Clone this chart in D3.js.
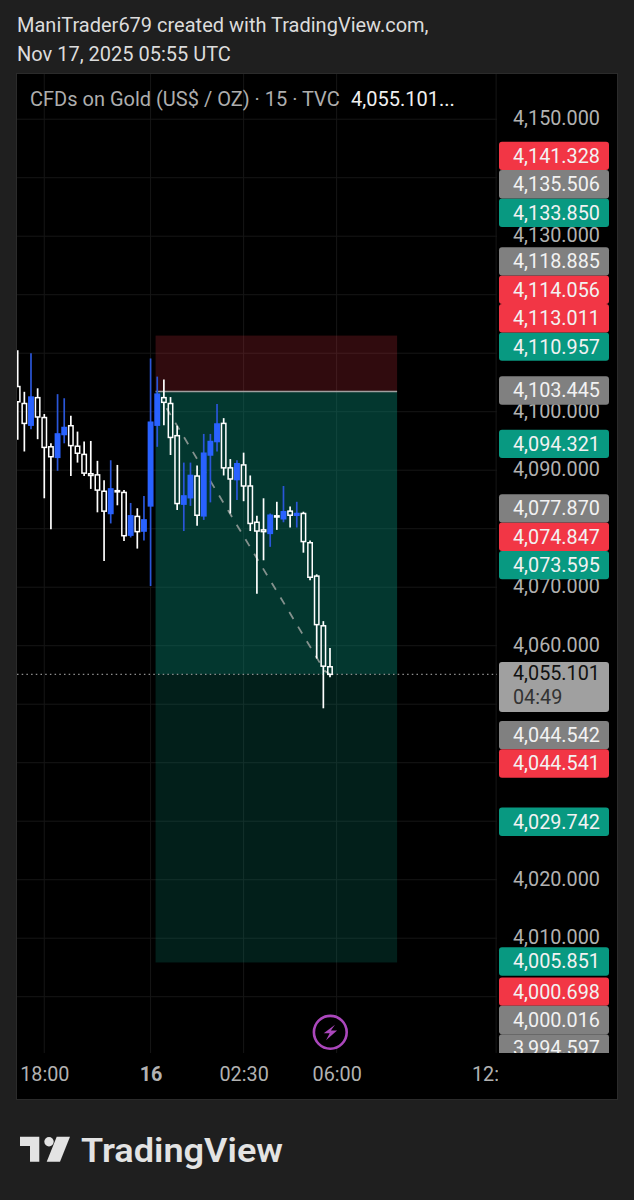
<!DOCTYPE html>
<html><head><meta charset="utf-8">
<script src="https://cdnjs.cloudflare.com/ajax/libs/d3/7.8.5/d3.min.js"></script>
<style>html,body{margin:0;padding:0;background:#1f1f1f}svg{display:block}text{font-family:Roboto,sans-serif}</style>
</head><body><svg id="c" width="634" height="1200"></svg>
<script>
// ---- data ----
const candleOpen=[4104.3,4101.4,4097.7,4102.4,4099.0,4094.0,4092.2,4096.1,4097.6,4094.1,4092.7,4089.4,4089.2,4086.4,4082.6,4086.5,4086.2,4078.9,4082.1,4079.6,4083.9,4097.7,4102.4,4101.4,4095.9,4084.2,4085.3,4089.0,4082.2,4092.6,4094.9,4098.0,4090.4,4088.4,4090.9,4087.3,4081.1,4079.8,4079.2,4082.2,4081.7,4083.0,4082.3,4082.6,4077.6,4071.9,4063.4,4056.4];
const candleHigh=[4110.5,4103.4,4110.0,4104.0,4099.6,4094.6,4103.0,4102.3,4099.3,4096.6,4094.9,4095.0,4091.6,4088.3,4091.7,4090.9,4086.6,4084.4,4083.5,4085.6,4109.1,4106.0,4105.5,4102.5,4097.6,4091.3,4091.3,4090.8,4096.2,4096.2,4101.3,4098.9,4091.9,4091.7,4093.0,4089.1,4082.2,4085.2,4082.6,4084.6,4087.3,4083.8,4084.6,4082.9,4078.0,4072.2,4064.2,4059.6];
const candleLow=[4095.2,4093.2,4097.0,4095.3,4085.2,4079.9,4089.9,4094.6,4089.0,4091.3,4089.0,4086.8,4082.8,4074.5,4080.9,4084.0,4077.9,4078.5,4076.6,4078.0,4070.2,4094.0,4097.7,4092.6,4083.2,4079.6,4083.9,4080.5,4081.5,4084.5,4093.2,4089.1,4082.6,4084.9,4084.7,4079.6,4068.9,4074.6,4076.9,4079.8,4081.1,4080.2,4080.2,4075.9,4071.2,4057.8,4049.3,4054.6];
const candleClose=[4101.7,4098.0,4102.5,4099.1,4093.9,4092.3,4096.2,4097.3,4094.2,4092.9,4089.5,4089.1,4086.6,4083.0,4086.8,4086.3,4078.8,4082.2,4079.5,4081.5,4098.2,4103.0,4101.6,4095.6,4084.3,4085.6,4089.1,4082.3,4092.9,4094.9,4097.9,4090.4,4088.5,4091.1,4087.3,4080.9,4079.6,4079.5,4082.3,4082.0,4082.9,4082.3,4082.6,4077.8,4071.7,4063.6,4056.5,4055.1];

const gridPrices=[4150,4140,4130,4120,4110,4100,4090,4080,4070,4060,4050,4040,4030,4020,4010,4000];
const priceTicks=[4150,4130,4100,4090,4070,4060,4020,4010];
const timeTickIndex=[4,20,34,48,72];
const timeTickLabels=["18:00","16","02:30","06:00","12:00"];

const lastPrice=4055.101;
const countdown="04:49";
const labelValues=[4141.328,4135.506,4133.850,4118.885,4114.056,4113.011,4110.957,4103.445,4094.321,4077.870,4074.847,4073.595,4044.542,4044.541,4029.742,4005.851,4000.698,4000.016,3994.597];
const labelKinds=["red","gray","green","gray","red","red","green","gray","green","gray","red","green","gray","red","green","green","red","gray","gray"];

const riskStop=4113.011, riskEntry=4103.445, riskTarget=4005.851;
const riskStartIndex=20.75, riskEndIndex=57.1;
const pathIndex=[22.4,46.2,47];
const pathPrice=[4100.6,4055.7,4055.1];

// ---- layout ----
const W=634,H=1200;
const pane={l:17,t:74,r:497,b:1053}, frame={l:17,t:74,r:617,b:1099};
const svg=d3.select("#c");
const y=d3.scaleLinear().domain([4150,4000]).range([119.2,996.7]);
const x=d3.scaleLinear().domain([0,72]).range([17.7,496.1]);
const labelColor={red:"#f23645",gray:"#808080",green:"#089981"};
const fmt=d3.format(",.3f");

svg.append("rect").attr("width",W).attr("height",H).attr("fill","#1f1f1f");
svg.append("rect").attr("x",frame.l).attr("y",frame.t).attr("width",frame.r-frame.l).attr("height",frame.b-frame.t).attr("fill","#000");
svg.append("rect").attr("x",frame.l-.5).attr("y",frame.t-.5).attr("width",frame.r-frame.l+1).attr("height",frame.b-frame.t+1).attr("fill","none").attr("stroke","#2b2b2b");

const defs=svg.append("defs");
defs.append("clipPath").attr("id","paneClip").append("rect").attr("x",pane.l).attr("y",pane.t).attr("width",pane.r-pane.l).attr("height",pane.b-pane.t);
defs.append("clipPath").attr("id","axisClip").append("rect").attr("x",497).attr("y",pane.t).attr("width",120).attr("height",pane.b-pane.t);
defs.append("clipPath").attr("id","timeClip").append("rect").attr("x",pane.l).attr("y",pane.b).attr("width",pane.r+1-pane.l).attr("height",frame.b-pane.b);

// header
const hdr=svg.append("g").attr("font-size",20).attr("fill","#dcdcdc");
hdr.append("text").attr("x",17).attr("y",32).text("ManiTrader679 created with TradingView.com,");
hdr.append("text").attr("x",17).attr("y",60.5).text("Nov 17, 2025 05:55 UTC");

// plot
const plot=svg.append("g").attr("clip-path","url(#paneClip)");
plot.selectAll("line.gy").data(gridPrices).join("line").attr("class","gy")
 .attr("x1",pane.l).attr("x2",pane.r).attr("y1",d=>y(d)).attr("y2",d=>y(d)).attr("stroke","#161616").attr("stroke-width",1);
plot.selectAll("line.gx").data(timeTickIndex).join("line").attr("class","gx")
 .attr("x1",d=>x(d)).attr("x2",d=>x(d)).attr("y1",pane.t).attr("y2",pane.b).attr("stroke","#161616").attr("stroke-width",1);

const bx=x(riskStartIndex), bw=x(riskEndIndex)-bx;
const band=(a,b,col,op)=>plot.append("rect").attr("x",bx).attr("width",bw).attr("y",y(a)).attr("height",y(b)-y(a)).attr("fill",col).attr("fill-opacity",op);
band(riskStop,riskEntry,"#f23645",.2);
band(riskEntry,lastPrice,"#089981",.36);
band(lastPrice,riskTarget,"#089981",.2);
plot.append("line").attr("x1",bx).attr("x2",bx+bw).attr("y1",y(riskEntry)).attr("y2",y(riskEntry)).attr("stroke","#a0a0a0").attr("stroke-width",1.5);

plot.append("path").attr("d",d3.line().x(d=>x(d[0])).y(d=>y(d[1]))(d3.zip(pathIndex,pathPrice)))
 .attr("fill","none").attr("stroke","#84918d").attr("stroke-width",1.8).attr("stroke-dasharray","8 9");

plot.append("line").attr("x1",pane.l).attr("x2",pane.r).attr("y1",y(lastPrice)).attr("y2",y(lastPrice))
 .attr("stroke","#8f8f8f").attr("stroke-width",1.2).attr("stroke-dasharray","1.5 3.2");

// candles
const candles=candleOpen.map((o,i)=>({i,o,h:candleHigh[i],l:candleLow[i],c:candleClose[i]}));
const gc=plot.selectAll("g.c").data(candles).join("g").attr("class","c");
const colr=d=>d.c>=d.o?"#2962ff":"#ffffff";
gc.append("line").attr("x1",d=>x(d.i)).attr("x2",d=>x(d.i)).attr("y1",d=>y(d.h)).attr("y2",d=>y(Math.max(d.o,d.c))).attr("stroke",d=>d.c>=d.o?"#2a56d8":"#fff").attr("stroke-width",1.7);
gc.append("line").attr("x1",d=>x(d.i)).attr("x2",d=>x(d.i)).attr("y1",d=>y(Math.min(d.o,d.c))).attr("y2",d=>y(d.l)).attr("stroke",d=>d.c>=d.o?"#2a56d8":"#fff").attr("stroke-width",1.7);
gc.append("rect").attr("x",d=>x(d.i)-2.2).attr("width",4.4)
 .attr("y",d=>y(Math.max(d.o,d.c))).attr("height",d=>Math.max(.6,Math.abs(y(d.o)-y(d.c))))
 .attr("fill",d=>d.c>=d.o?"#2962ff":"none").attr("stroke",colr).attr("stroke-width",1.5);

// price axis
const priceAxis=d3.axisRight(y).tickValues(priceTicks).tickFormat(fmt).tickSize(0).tickPadding(0);
const pa=svg.append("g").attr("clip-path","url(#axisClip)");
const pag=pa.append("g").attr("transform","translate(513,-1)").call(priceAxis);
pag.select(".domain").remove();
pag.selectAll("text").attr("font-family","Roboto,sans-serif").attr("font-size",19.8).attr("fill","#b2b2b2");

// stacked price labels: pushed away from the last price label
const H_L=28.4;
const items=labelValues.map((v,i)=>({v,k:labelKinds[i],py:y(v)-1}));
const above=items.filter(d=>d.v>lastPrice).sort((a,b)=>a.v-b.v);
const below=items.filter(d=>d.v<lastPrice).sort((a,b)=>b.v-a.v);
let prev=Infinity; above.forEach(d=>{d.py=Math.min(d.py,prev-H_L);prev=d.py;});
prev=-Infinity; below.forEach(d=>{d.py=Math.max(d.py,prev+H_L);prev=d.py;});
const lg=pa.selectAll("g.lab").data(above.concat(below)).join("g").attr("class","lab").attr("transform",d=>`translate(0,${d.py})`);
lg.append("rect").attr("x",499).attr("y",-H_L/2).attr("width",110).attr("height",H_L).attr("rx",3).attr("fill",d=>labelColor[d.k]);
lg.append("text").attr("x",513).attr("dy","0.35em").attr("font-size",19.8).attr("fill","#f2f2f2").text(d=>fmt(d.v));

// last price label
const ly=y(lastPrice);
pa.append("rect").attr("x",499).attr("y",ly-12.4).attr("width",110).attr("height",50).attr("rx",3).attr("fill","#a0a0a0");
pa.append("text").attr("x",513).attr("y",ly-1).attr("dy","0.35em").attr("font-size",19.8).attr("fill","#111").text(fmt(lastPrice));
pa.append("text").attr("x",513).attr("y",ly+23).attr("dy","0.35em").attr("font-size",19.8).attr("fill","#333").text(countdown);

// time axis
const timeAxis=d3.axisBottom(x).tickValues(timeTickIndex).tickFormat((d,i)=>timeTickLabels[i]).tickSize(0).tickPadding(0);
const tg=svg.append("g").attr("clip-path","url(#timeClip)").append("g").attr("transform","translate(0,1067)").call(timeAxis);
tg.select(".domain").remove();
tg.selectAll("text").attr("font-family","Roboto,sans-serif").attr("font-size",19.8).attr("fill","#b2b2b2")
  .attr("font-weight",(d,i)=>timeTickLabels[i]==="16"?700:400);

// legend
svg.append("text").attr("x",30).attr("y",106).attr("font-size",20).attr("fill","#aeaeae").text("CFDs on Gold (US$ / OZ) · 15 · TVC");
svg.append("text").attr("x",351).attr("y",106).attr("font-size",20).attr("fill","#f0f0f0").text(fmt(lastPrice)+"...");

// lightning badge
const badge=svg.append("g").attr("transform","translate(330.3,1032.3)");
badge.append("circle").attr("r",16.4).attr("fill","#000").attr("stroke","#ab47bc").attr("stroke-width",2.6);
badge.append("path").attr("d","M4.7,-7.5 L-6.6,1 L-0.6,1 L-4.3,8 L6.8,-1.8 L0.6,-1.8 Z").attr("fill","#ab47bc");

// TradingView logo
const logo=svg.append("g").attr("fill","#e3e3e3");
logo.append("path").attr("d","M20,1136.7H39.3V1161.7H30V1146H20Z");
logo.append("circle").attr("cx",49).attr("cy",1141.7).attr("r",4.7);
logo.append("path").attr("d","M56.7,1136.7H70L60,1161.7H46.7Z");
logo.append("text").attr("x",81).attr("y",1161.7).attr("font-family","Inter,sans-serif").attr("font-weight",600).attr("font-size",34)
 .attr("textLength",202).attr("lengthAdjust","spacingAndGlyphs").text("TradingView");
</script></body></html>
